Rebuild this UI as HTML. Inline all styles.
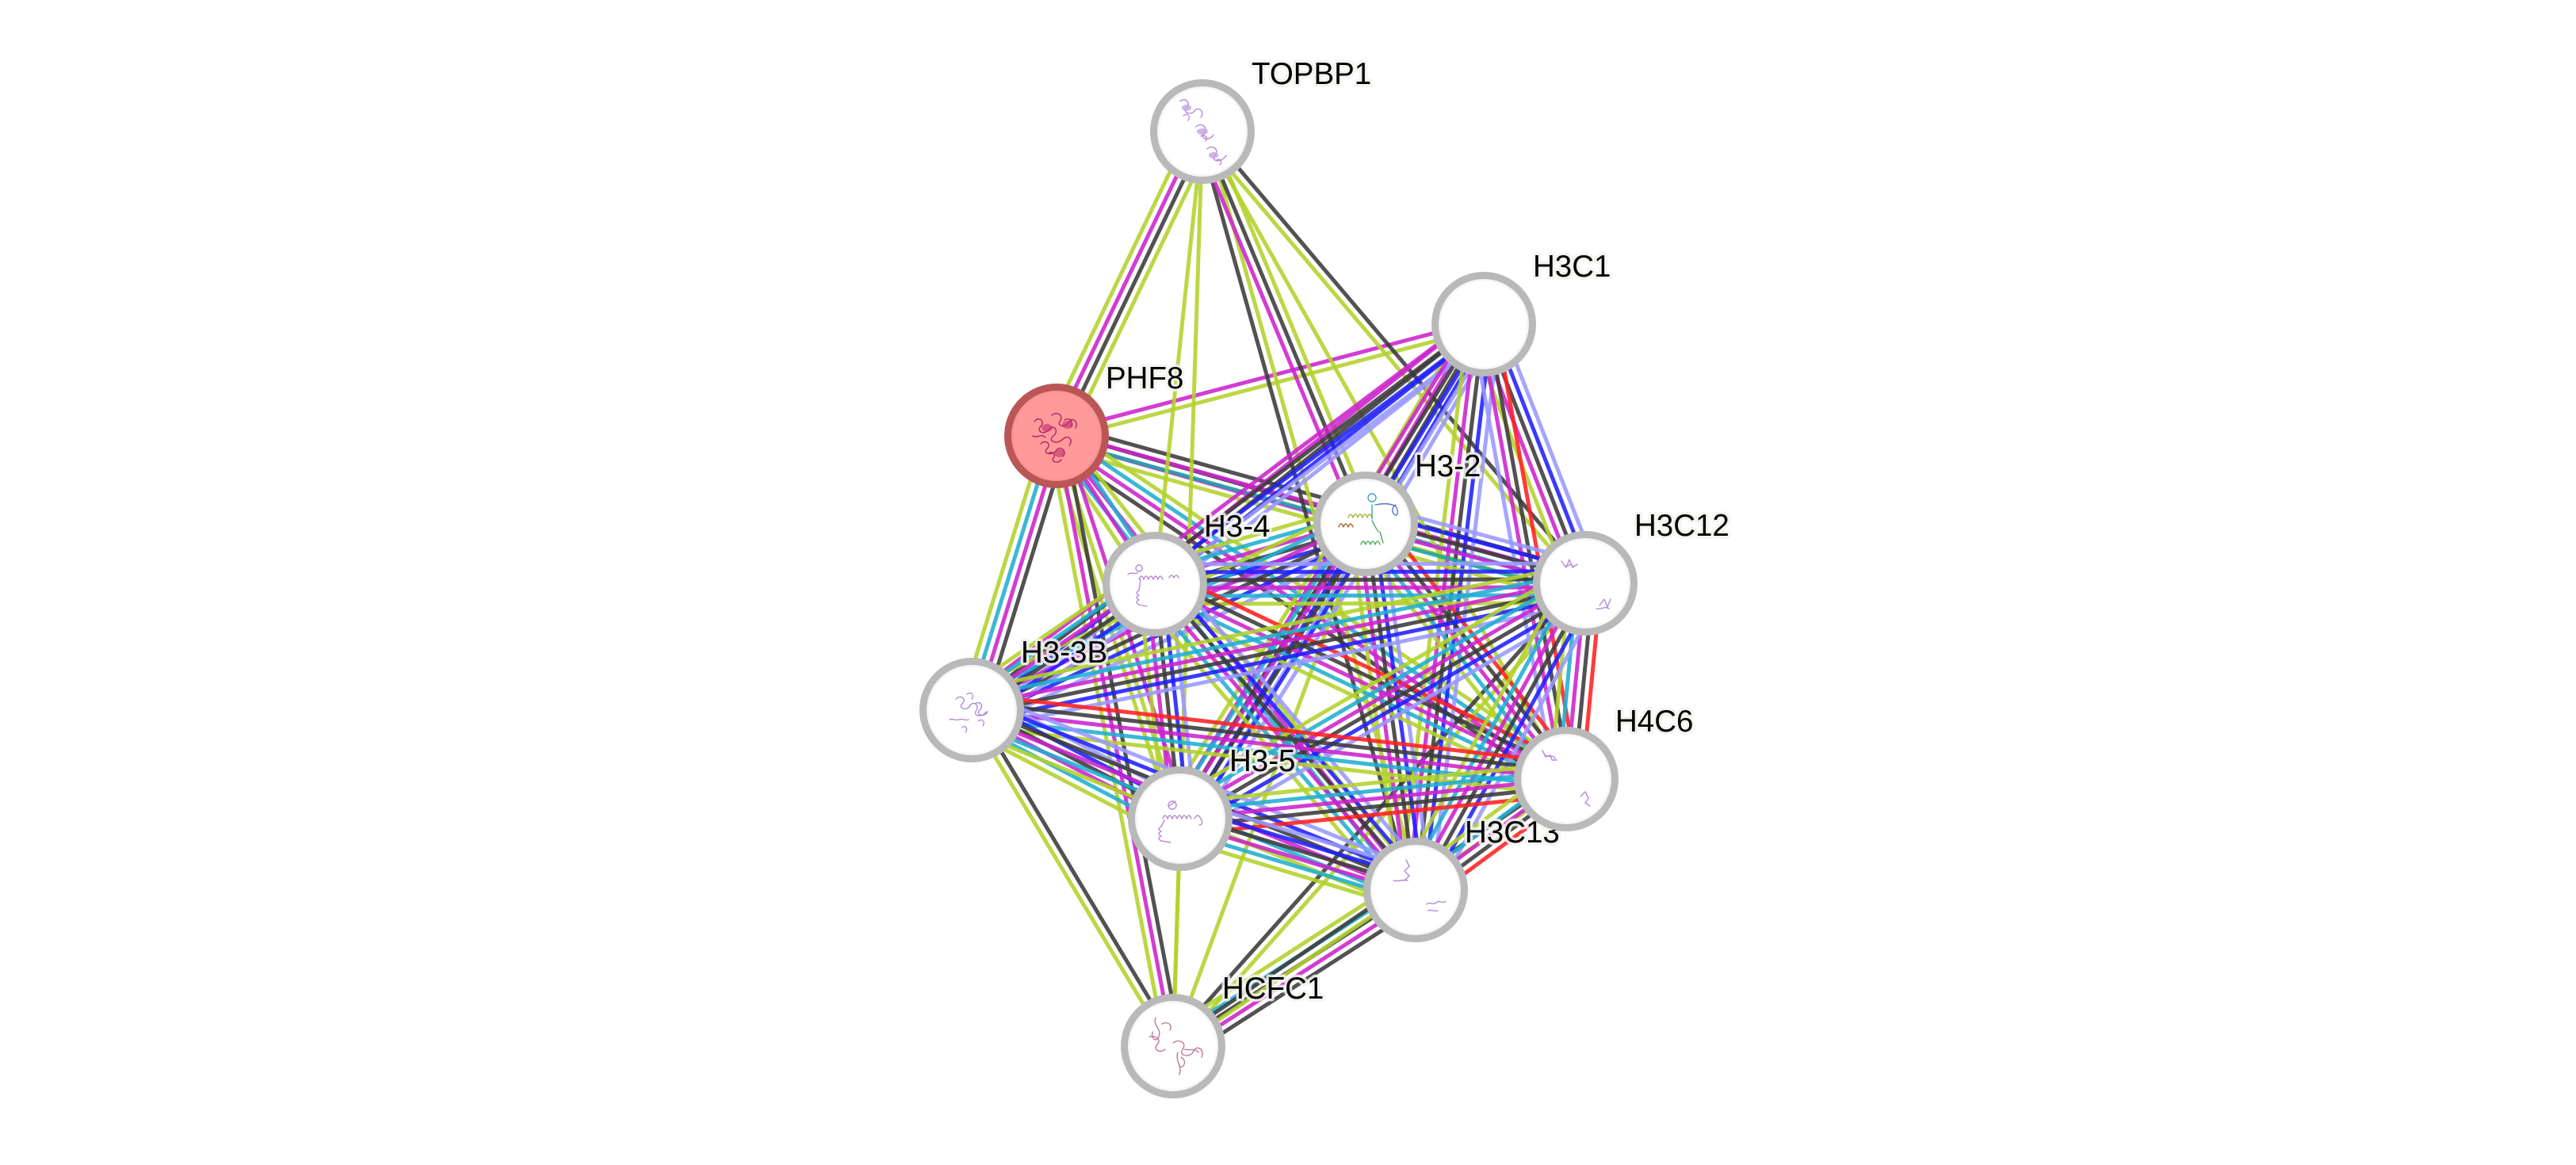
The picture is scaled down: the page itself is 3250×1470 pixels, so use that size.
<!DOCTYPE html>
<html>
<head>
<meta charset="utf-8">
<style>
  html,body{margin:0;padding:0;background:#ffffff;}
  body{width:3250px;height:1470px;overflow:hidden;}
  svg{display:block;}
  .lbl{font-family:"Liberation Sans",Arial,sans-serif;font-size:38.5px;fill:#000;
       stroke:#f2f2ee;stroke-width:7px;stroke-linejoin:round;paint-order:stroke;stroke-opacity:0.85;}
  .ic{fill:none;stroke-width:1.4;stroke-linecap:round;stroke-linejoin:round;}
</style>
</head>
<body>
<svg id="net" width="3250" height="1470" viewBox="0 0 3250 1470" xmlns="http://www.w3.org/2000/svg">
  <defs>
    <radialGradient id="ng" cx="50%" cy="50%" r="50%">
      <stop offset="0.86" stop-color="#ffffff"/>
      <stop offset="1" stop-color="#e2e2e2"/>
    </radialGradient>
    <radialGradient id="pg" cx="50%" cy="50%" r="50%">
      <stop offset="0.86" stop-color="#ff9a9a"/>
      <stop offset="1" stop-color="#e88888"/>
    </radialGradient>
  </defs>
  <rect x="0" y="0" width="3250" height="1470" fill="#ffffff"/>
  <g id="edges"></g>

  <!-- TOPBP1 -->
  <g transform="translate(1517,166)">
    <circle r="61.5" fill="url(#ng)" stroke="#b9b9b9" stroke-width="9"/>
    <path class="ic" stroke="#b48ad6" d="M-28,-38 c6,-6 14,2 8,8 c-6,6 6,10 10,4 c4,-6 14,0 8,8 M-24,-20 c4,-4 10,0 6,6 M-8,-6 c6,-6 16,0 10,8 c-6,8 8,10 12,2 M-2,6 c4,-4 10,2 6,6 M6,22 c6,-6 16,0 10,8 c-6,8 8,10 14,0 M18,36 c4,-3 8,2 4,6"/>
    <ellipse cx="-20" cy="-30" rx="6" ry="4" fill="#c6a2e4" opacity="0.8"/>
    <ellipse cx="0" cy="0" rx="7" ry="4" fill="#c6a2e4" opacity="0.8"/>
    <ellipse cx="14" cy="30" rx="6" ry="4" fill="#c6a2e4" opacity="0.8"/>
    <text class="lbl" x="62" y="-60">TOPBP1</text>
  </g>
  <!-- H3C1 -->
  <g transform="translate(1872,409)">
    <circle r="61.5" fill="url(#ng)" stroke="#b9b9b9" stroke-width="9"/>
    <text class="lbl" x="62" y="-60">H3C1</text>
  </g>
  <!-- PHF8 -->
  <g transform="translate(1333,550)">
    <circle r="61.5" fill="url(#pg)" stroke="#bb5656" stroke-width="9"/>
    <path class="ic" stroke="#b02462" stroke-width="1.3" d="M-28,-18 c6,-8 14,0 8,6 c-6,6 4,12 10,4 c6,-8 14,2 6,8 c-8,6 4,12 12,4 c6,-6 14,0 8,8 M-20,10 c6,-6 14,0 8,6 c-6,6 6,10 12,2 c4,-6 14,0 8,8 M-6,-26 c6,-6 16,0 10,8 c-4,6 8,8 12,0 c4,-6 12,0 8,8 M10,-20 c6,-4 12,2 8,8 M-10,22 c4,-4 10,2 6,6 c-4,4 6,8 10,2 M-30,0 c6,4 10,-4 16,2"/>
    <ellipse cx="-12" cy="-10" rx="7" ry="5" fill="#c03070" opacity="0.6"/>
    <ellipse cx="14" cy="-14" rx="7" ry="5" fill="#c03070" opacity="0.6"/>
    <ellipse cx="4" cy="22" rx="7" ry="5" fill="#c03070" opacity="0.6"/>
    <text class="lbl" x="62" y="-60">PHF8</text>
  </g>
  <!-- H3-2 -->
  <g transform="translate(1723,661)">
    <circle r="61.5" fill="url(#ng)" stroke="#b9b9b9" stroke-width="9"/>
    <path class="ic" stroke="#b5682e" stroke-width="2.2" d="M-34,4 q3,-8 6,0 q3,-8 6,0 q3,-8 6,0"/>
    <path class="ic" stroke="#a8b83a" stroke-width="2.2" d="M-22,-8 q3,-8 6,0 q3,-8 6,0 q3,-8 6,0 q3,-8 6,0 q3,-8 6,0"/>
    <path class="ic" stroke="#4fb060" stroke-width="2.2" d="M8,-4 q4,8 8,14 M-6,26 q3,-8 6,0 q3,-8 6,0 q3,-8 6,0 q3,-8 6,0 M18,10 l4,14"/>
    <path class="ic" stroke="#3aa6b8" stroke-width="1.8" d="M8,-6 l0,-18 M8,-28 a5,5 0 1 1 0.1,0"/>
    <path class="ic" stroke="#5a72c8" stroke-width="1.8" d="M12,-24 c10,-2 20,-2 26,2 c4,6 2,14 -2,10 c-4,-4 -2,-10 2,-12"/>
    <text class="lbl" x="62" y="-60">H3-2</text>
  </g>
  <!-- H3-4 -->
  <g transform="translate(1457,737)">
    <circle r="61.5" fill="url(#ng)" stroke="#b9b9b9" stroke-width="9"/>
    <path class="ic" stroke="#b58bd4" stroke-width="1.8" d="M-20,-6 q3,-8 6,0 q3,-8 6,0 q3,-8 6,0 q3,-8 6,0 q3,-8 6,0 M18,-8 q3,-6 6,0 q3,-6 6,0 M-18,-6 l-2,14 q-6,3 0,6 q-6,3 0,6 q-6,3 0,6 l10,2 M-20,-16 a4,4 0 1 1 0.1,0 M-34,-12 c4,-4 8,0 12,-2"/>
    <text class="lbl" x="62" y="-60">H3-4</text>
  </g>
  <!-- H3C12 -->
  <g transform="translate(2000,736)">
    <circle r="61.5" fill="url(#ng)" stroke="#b9b9b9" stroke-width="9"/>
    <path class="ic" stroke="#b48ad6" stroke-width="1.4" d="M-30,-28 l6,8 l4,-10 l4,10 l6,-4 M-26,-22 c4,2 6,-4 10,0 M18,28 l6,-8 l4,10 l4,-10 M14,32 c6,2 10,-4 16,0"/>
    <text class="lbl" x="62" y="-60">H3C12</text>
  </g>
  <!-- H3-3B -->
  <g transform="translate(1226,896)">
    <circle r="61.5" fill="url(#ng)" stroke="#b9b9b9" stroke-width="9"/>
    <path class="ic" stroke="#b48ad6" stroke-width="1.2" d="M-20,-14 c6,-6 14,0 8,6 c-6,6 6,10 10,2 c4,-6 12,0 8,6 c-6,8 8,10 12,2 M-6,-20 c4,-4 10,0 6,6 M4,-8 c6,-4 12,2 6,8 c-6,6 6,10 10,2 M-28,12 c4,-2 8,2 12,0 c4,-2 8,2 12,0 M-12,22 c4,-4 8,2 4,6 M8,14 c4,-4 10,0 6,6"/>
    <text class="lbl" x="62" y="-60">H3-3B</text>
  </g>
  <!-- H3C13 -->
  <g transform="translate(1786,1123)">
    <circle r="61.5" fill="url(#ng)" stroke="#b9b9b9" stroke-width="9"/>
    <path class="ic" stroke="#b48ad6" stroke-width="1.4" d="M-12,-38 l4,8 l-6,6 l6,6 l-6,6 M-28,-12 c6,2 12,-2 18,0 M14,18 c4,-4 8,2 12,-2 c4,-4 8,2 12,-2 M16,26 c4,-2 8,2 12,0"/>
    <text class="lbl" x="62" y="-60">H3C13</text>
  </g>
  <!-- H4C6 -->
  <g transform="translate(1976,983)">
    <circle r="61.5" fill="url(#ng)" stroke="#b9b9b9" stroke-width="9"/>
    <path class="ic" stroke="#b48ad6" stroke-width="1.4" d="M-30,-36 l4,8 l6,-2 l2,6 l6,0 M-26,-30 c4,4 8,-2 12,4 M18,22 l6,-6 l4,8 l-4,6 l6,4"/>
    <text class="lbl" x="62" y="-60">H4C6</text>
  </g>
  <!-- H3-5 -->
  <g transform="translate(1489,1033)">
    <circle r="61.5" fill="url(#ng)" stroke="#b9b9b9" stroke-width="9"/>
    <path class="ic" stroke="#b58bd4" stroke-width="1.8" d="M-22,0 q3,-8 6,0 q3,-8 6,0 q3,-8 6,0 q3,-8 6,0 q3,-8 6,0 q3,-8 6,0 M18,0 q4,-8 8,0 q4,8 -2,8 M-20,2 l-4,8 q-6,3 0,6 q-6,3 0,6 q-6,3 0,6 l12,2 M-10,-12 a5,5 0 1 1 0.1,0 M-14,-16 l8,-6"/>
    <text class="lbl" x="62" y="-60">H3-5</text>
  </g>
  <!-- HCFC1 -->
  <g transform="translate(1480,1320)">
    <circle r="61.5" fill="url(#ng)" stroke="#b9b9b9" stroke-width="9"/>
    <path class="ic" stroke="#c07a9c" stroke-width="1.3" d="M-22,-36 c-4,10 8,14 4,24 c-4,8 -10,2 -8,-6 M-30,-12 c8,-2 16,4 10,10 c-6,6 4,12 10,6 M-14,-28 c8,-4 14,2 10,8 M0,-4 c8,-6 18,0 12,8 c-6,8 10,12 14,2 c4,-8 14,-2 10,8 M6,8 c-4,10 6,16 2,28 M10,14 c8,4 4,14 -2,12 M14,4 c6,2 14,-2 18,4"/>
    <text class="lbl" x="62" y="-60">HCFC1</text>
  </g>
</svg>
<script>
(function(){
  var N = {
    "TOPBP1":[1517,166],"H3C1":[1872,409],"PHF8":[1333,550],"H3-2":[1723,661],
    "H3-4":[1457,737],"H3C12":[2000,736],"H3-3B":[1226,896],"H4C6":[1976,983],
    "H3-5":[1489,1033],"H3C13":[1786,1123],"HCFC1":[1480,1320]
  };
  var C = {R:"#ff2020",B:"#1f1fff",L:"#9999ff",K:"#3a3a3a",M:"#cc22cc",C:"#20aed0",T:"#1ea4a4",G:"#b3d22a"};
  var E = [
    ["PHF8","TOPBP1","GMKG"],
    ["PHF8","H3C1","MG"],
    ["PHF8","H3-2","KM"],
    ["PHF8","H3C12","KMTG"],
    ["PHF8","H4C6","GCMK"],
    ["PHF8","H3C13","GMC"],
    ["PHF8","H3-4","CMG"],
    ["PHF8","H3-5","MGG"],
    ["PHF8","H3-3B","KMCG"],
    ["PHF8","HCFC1","KMG"],
    ["TOPBP1","H3-4","G"],
    ["TOPBP1","HCFC1","G"],
    ["TOPBP1","H3C13","GK"],
    ["TOPBP1","H3-2","GKM"],
    ["TOPBP1","H4C6","G"],
    ["TOPBP1","H3C12","KG"],
    ["HCFC1","H3-3B","GK"],
    ["HCFC1","H3-5","G"],
    ["HCFC1","H3-2","G"],
    ["HCFC1","H3C12","KG"],
    ["HCFC1","H3C13","GCKMK"],
    ["HCFC1","H4C6","KG"],
    ["H3C1","H3-2","LBKMG"],
    ["H3C1","H3-4","LBKM"],
    ["H3C1","H3-3B","LBKM"],
    ["H3C1","H3-5","LBKM"],
    ["H3C1","H3C12","LBKMG"],
    ["H3C1","H3C13","LBKMG"],
    ["H3C1","H4C6","RKML"],
    ["H3-2","H3-4","LBKMCG"],
    ["H3-2","H3C12","LBKMTG"],
    ["H3-2","H3-3B","LBKMCG"],
    ["H3-2","H4C6","RKMCG"],
    ["H3-2","H3-5","LBKMCG"],
    ["H3-2","H3C13","LBKMG"],
    ["H3-4","H3C12","LBKMCG"],
    ["H3-4","H3-3B","LBKMCG"],
    ["H3-4","H4C6","RKMCG"],
    ["H3-4","H3-5","LBKMG"],
    ["H3-4","H3C13","LBKMCG"],
    ["H3C12","H3-3B","LBKMCG"],
    ["H3C12","H4C6","RKMCG"],
    ["H3C12","H3-5","LBKMCG"],
    ["H3C12","H3C13","LBKMCG"],
    ["H3-3B","H4C6","RKMCG"],
    ["H3-3B","H3-5","LBKMCG"],
    ["H3-3B","H3C13","LBKMCG"],
    ["H4C6","H3-5","RKMCG"],
    ["H4C6","H3C13","RKMCG"],
    ["H3-5","H3C13","LBKMCG"]
  ];
  var g = document.getElementById("edges");
  var ns = "http://www.w3.org/2000/svg";
  var SP = 10, W = 5;
  E.forEach(function(e){
    var a = N[e[0]], b = N[e[1]], s = e[2];
    var dx = b[0]-a[0], dy = b[1]-a[1], L = Math.sqrt(dx*dx+dy*dy);
    var ux = -dy/L, uy = dx/L, n = s.length;
    for (var i=0;i<n;i++){
      var off = (i-(n-1)/2)*SP;
      var l = document.createElementNS(ns,"line");
      l.setAttribute("x1",(a[0]+ux*off).toFixed(1));
      l.setAttribute("y1",(a[1]+uy*off).toFixed(1));
      l.setAttribute("x2",(b[0]+ux*off).toFixed(1));
      l.setAttribute("y2",(b[1]+uy*off).toFixed(1));
      l.setAttribute("stroke",C[s[i]]);
      l.setAttribute("stroke-width",W);
      l.setAttribute("stroke-opacity","0.88");
      g.appendChild(l);
    }
  });
})();
</script>
</body>
</html>
